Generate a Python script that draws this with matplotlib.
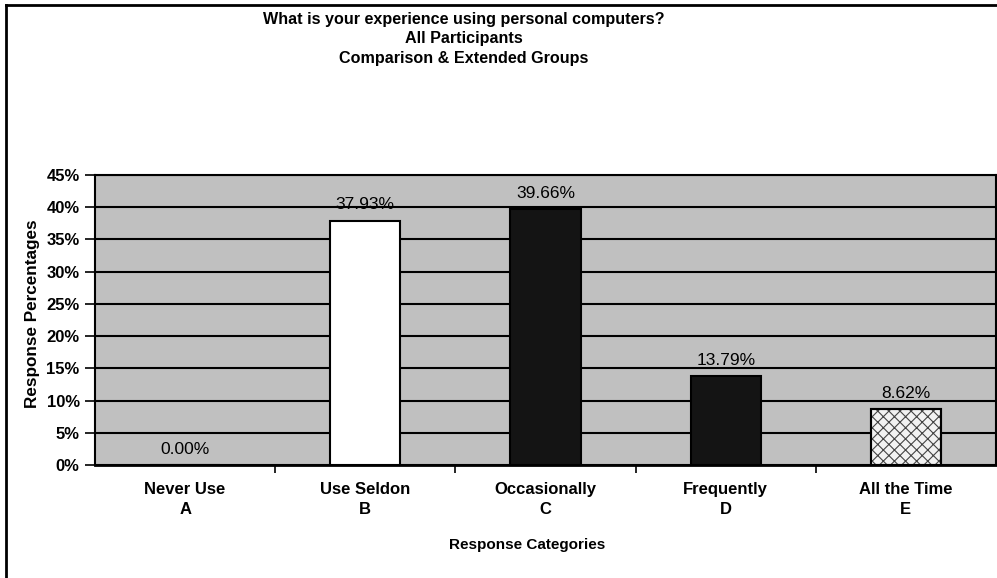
import matplotlib.pyplot as plt
from matplotlib.lines import Line2D

plt.rcParams['font.family'] = ['Liberation Sans', 'DejaVu Sans']
plt.rcParams['hatch.linewidth'] = 0.8

categories = ["Never Use", "Use Seldon", "Occasionally", "Frequently", "All the Time"]
letters = ["A", "B", "C", "D", "E"]
percentages = [0.00, 37.93, 39.66, 13.79, 8.62]
yticks = [0, 5, 10, 15, 20, 25, 30, 35, 40, 45]

W, H = 997, 578
fig = plt.figure(figsize=(W / 100, H / 100), dpi=100)
fig.patch.set_facecolor("white")

# plot area placed in pixel terms
left, right, top, bottom = 95, 996, 175, 465
ax = fig.add_axes([left / W, 1 - bottom / H, (right - left) / W, (bottom - top) / H])
ax.set_facecolor("#c0c0c0")

x = range(len(categories))
faces = ["white", "white", "#141414", "#141414", "#f2f2f2"]
bars = ax.bar(x, percentages, width=0.39, color=faces, edgecolor="black", linewidth=1.5, zorder=3)
bars[4].set_hatch("xxx")
bars[4].set_edgecolor("#444444")
ax.bar(x[4], percentages[4], width=0.39, color="none", edgecolor="black", linewidth=1.5, zorder=4)

ax.bar_label(bars, labels=[f"{v:.2f}%" for v in percentages], padding=6, fontsize=12.5, zorder=5)

ax.set_xlim(-0.5, len(categories) - 0.5)
ax.set_ylim(0, 45)
ax.set_yticks(yticks)
ax.set_yticklabels([f"{t}%" for t in yticks], fontsize=12, fontweight="bold")
ax.yaxis.grid(True, color="black", linewidth=1.5, zorder=1)
ax.set_axisbelow(True)

# category ticks sit between groups, labels at centres
ax.set_xticks([i + 0.5 for i in range(len(categories) - 1)])
ax.set_xticklabels([])
ax.tick_params(axis="x", direction="out", length=6, width=1.2)
ax.tick_params(axis="y", direction="out", length=7, width=1.2, pad=4)
for i, (c, l) in enumerate(zip(categories, letters)):
    ax.text(i, -0.06, f"{c}\n{l}", transform=ax.get_xaxis_transform(), ha="center", va="top",
            fontsize=12, fontweight="bold", linespacing=1.35)

for s in ax.spines.values():
    s.set_linewidth(1.5)
ax.spines["bottom"].set_linewidth(2)

fig.text(33 / W, 1 - 314 / H, "Response Percentages", rotation=90, ha="center", va="center",
         fontsize=12.3, fontweight="bold")
fig.text(527 / W, 1 - 545 / H, "Response Categories", ha="center", va="center",
         fontsize=11, fontweight="bold")

fig.text(464 / W, 1 - 39 / H,
         "What is your experience using personal computers?\nAll Participants\nComparison & Extended Groups",
         ha="center", va="center", fontsize=11.6, fontweight="bold", linespacing=1.4)

# outer frame (left and top edges)
fig.add_artist(Line2D([6 / W, 6 / W], [0, 1 - 5 / H], color="black", linewidth=2))
fig.add_artist(Line2D([6 / W, 1], [1 - 5 / H, 1 - 5 / H], color="black", linewidth=2))

fig.savefig("out.png", dpi=100)
